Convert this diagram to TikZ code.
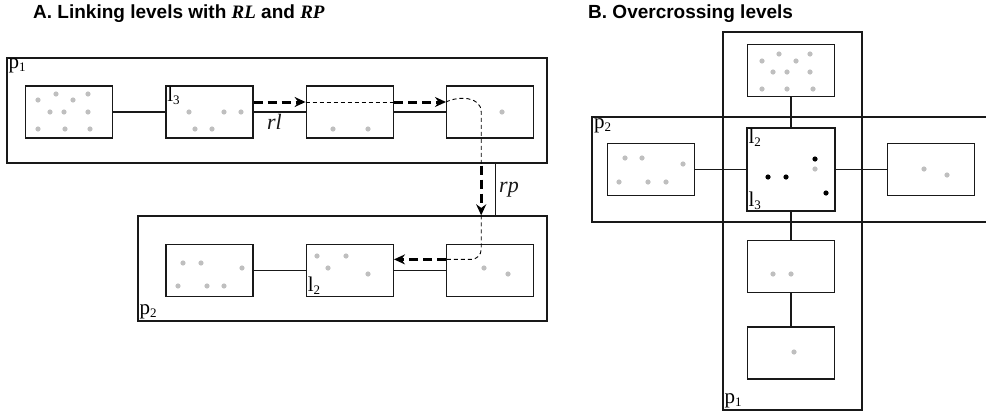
\documentclass[tikz,border=0pt]{standalone}
\usepackage{fontspec}
\setmainfont{Liberation Serif}
\setsansfont{Liberation Sans}
\usetikzlibrary{arrows.meta, positioning, calc}

\newcommand{\subidx}[1]{\raisebox{-3pt}{\fontsize{13}{13}\selectfont #1}}

\begin{document}
\begin{tikzpicture}[
  x=1pt, y=-1pt,
  plane/.style={draw=black!90, line width=1.3pt, inner sep=0pt},
  level/.style={draw=black!90, line width=1.4pt, fill=white,
                minimum width=87pt, minimum height=52pt, inner sep=0pt},
  link/.style={black!90, line width=1.1pt},
  hop/.style={line width=3pt, dash pattern=on 9pt off 5pt,
              -{Stealth[length=11pt, width=10pt]}},
  trace/.style={line width=0.9pt, dash pattern=on 4pt off 3pt},
  lbl/.style={font=\fontsize{21}{21}\selectfont, inner sep=1pt},
  rel/.style={font=\fontsize{22}{22}\selectfont\itshape, inner sep=1pt},
  title/.style={font=\fontsize{19}{19}\selectfont\sffamily\bfseries,
                anchor=base west, inner sep=0pt},
  gdot/.style={fill=black!25},
  bdot/.style={fill=black},
]
\useasboundingbox (0,0) rectangle (986,415);

% titles
\node[title] (titleA) at (33,18) {A. Linking levels with {\rmfamily\bfseries\itshape RL} and {\rmfamily\bfseries\itshape RP}};
\node[title] (titleB) at (588,18) {B. Overcrossing levels};

% A: planes
\node[plane, minimum width=540pt, minimum height=105pt] (p1A) at (277,110.5) {};
\node[plane, minimum width=409pt, minimum height=105pt] (p2A) at (342.5,268.5) {};

% A: levels of p1
\node[level] (a1) at (69,112) {};
\node[level, right=52pt of a1] (a2) {};
\node[level, right=52pt of a2] (a3) {};
\node[level, right=52pt of a3] (a4) {};
% A: levels of p2
\node[level, below=105pt of a4] (b3) {};
\node[level, left=52pt of b3] (b2) {};
\node[level, left=52pt of b2] (b1) {};

\draw[link] (a1) -- (a2);
\draw[link] (a2) -- node[rel, below=1pt, pos=0.4] (rlLbl) {rl} (a3);
\draw[link] (a3) -- (a4);
\draw[link] (b1) -- (b2);
\draw[link] (b2) -- (b3);
\draw[link] ([xshift=-52pt]p1A.south east) -- node[rel, right=2pt] (rpLbl) {rp} ([xshift=-52pt]p2A.north east);

% A: route
\coordinate (drop) at ($(a4.center |- p1A.south)+(-9,2)$);
\coordinate (land) at (drop |- p2A.north);
\coordinate (bturn) at ([yshift=11pt]b3.west);
\draw[hop] ([yshift=10pt]a2.east) -- ([yshift=10pt]a3.west);
\draw[trace] ([yshift=10pt]a3.west) -- ([yshift=10pt]a3.east);
\draw[hop] ([yshift=10pt]a3.east) -- ([yshift=10pt]a4.west);
\draw[trace] ([yshift=10pt]a4.west) .. controls +(12,-6) and +(0,-16) .. (drop |- a4.center) -- (drop);
\draw[hop] (drop) -- (land);
\draw[trace, rounded corners=10pt] (land) -- (land |- bturn) -- (bturn);
\draw[hop] (bturn) -- ([yshift=11pt]b2.east);

% A: elements
\foreach \pt in {(38,100),(56,94),(73,100),(88,94),(50,112),(64,112),(88,112),
                 (38,129),(65,129),(90,129),
                 (189,112),(224,112),(241,112),(195,129),(212,129),
                 (333,129),(368,129),(502,112),
                 (183,263),(201,263),(242,268),(178,286),(207,286),(224,286),
                 (317,256),(346,256),(328,268),(368,274),
                 (484,268),(508,274)}
  \fill[gdot] \pt circle[radius=2.6];

% A: labels
\node[lbl, anchor=north west] (p1Alabel) at ([xshift=1pt]p1A.north west) {p\subidx{1}};
\node[lbl, anchor=south west] (p2Alabel) at ([xshift=1pt,yshift=1pt]p2A.south west) {p\subidx{2}};
\node[lbl, anchor=north west] (l3Alabel) at ([xshift=1pt]a2.north west) {l\subidx{3}};
\node[lbl, anchor=south west] (l2Alabel) at ([xshift=1pt,yshift=1pt]b2.south west) {l\subidx{2}};

% B: planes
\node[plane, minimum width=139pt, minimum height=378pt] (p1B) at (792.5,221) {};
\coordinate (p2Bnw) at (592,117);
\draw[plane] (986,117) -| (592,222) -- (986,222);

% B: levels
\node[level, minimum width=88pt, minimum height=83pt] (cmid) at (791,169.5) {};
\node[level, above=30pt of cmid] (ctop) {};
\node[level, left=51pt of cmid] (cleft) {};
\node[level, right=51pt of cmid] (cright) {};
\node[level, below=28pt of cmid] (cbelow) {};
\node[level, below=33pt of cbelow] (cbottom) {};

\draw[link] (ctop) -- (cmid);
\draw[link] (cleft) -- (cmid);
\draw[link] (cmid) -- (cright);
\draw[link] (cmid) -- (cbelow);
\draw[link] (cbelow) -- (cbottom);

% B: elements
\foreach \pt in {(762,61),(779,54),(796,61),(810,54),(773,72),(787,72),(810,72),
                 (762,89),(787,89),(813,89),
                 (625,158),(642,158),(683,164),(619,182),(648,182),(666,182),
                 (815,169),(924,169),(947,175),(773,274),(791,274),(794,352)}
  \fill[gdot] \pt circle[radius=2.6];
\foreach \pt in {(815,159),(768,177),(786,177),(826,193)}
  \fill[bdot] \pt circle[radius=2.6];

% B: labels
\node[lbl, anchor=north west] (p2Blabel) at ([xshift=1pt]p2Bnw) {p\subidx{2}};
\node[lbl, anchor=south west] (p1Blabel) at ([xshift=1pt,yshift=1pt]p1B.south west) {p\subidx{1}};
\node[lbl, anchor=north west] (l2Blabel) at ([xshift=1pt]cmid.north west) {l\subidx{2}};
\node[lbl, anchor=south west] (l3Blabel) at ([xshift=1pt,yshift=1pt]cmid.south west) {l\subidx{3}};
\end{tikzpicture}
\end{document}
